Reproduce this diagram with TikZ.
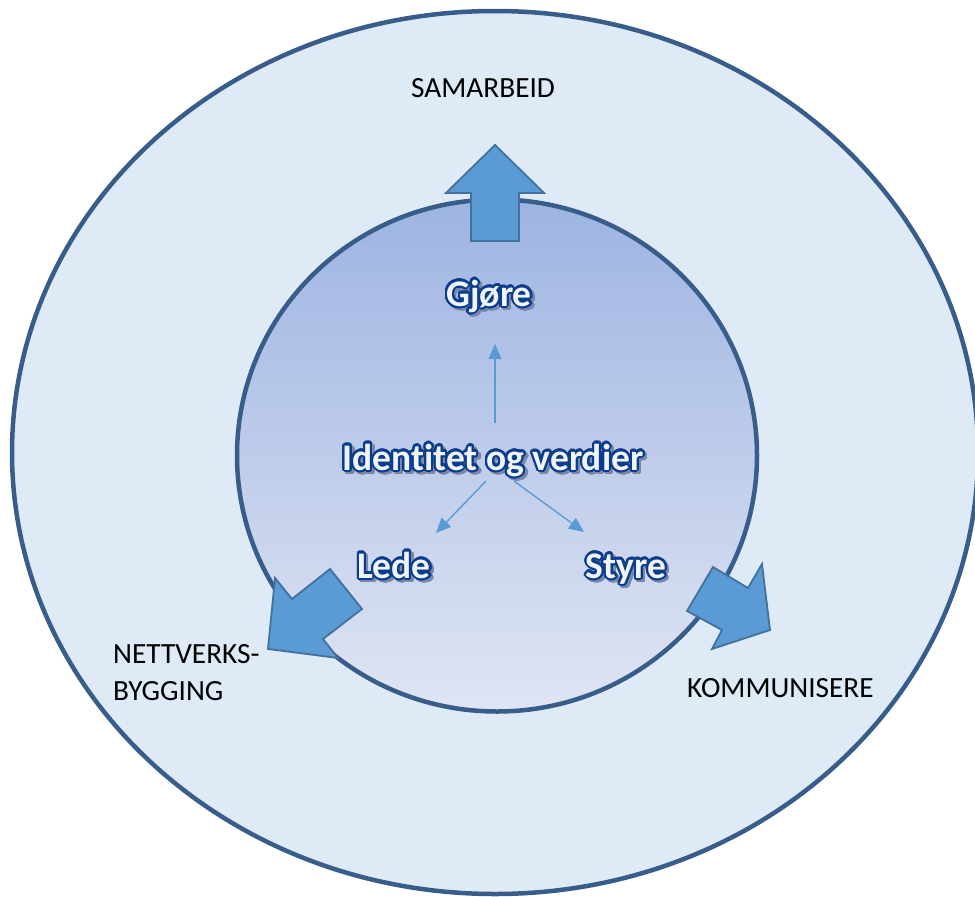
\documentclass[tikz,border=0pt]{standalone}
\usepackage{fontspec}
\setmainfont{Carlito}[Ligatures=NoCommon]
\usepackage{contour}
\contourlength{2.1pt}
\contournumber{32}
\usetikzlibrary{arrows.meta}

\definecolor{outerfill}{RGB}{222,234,246}
\definecolor{ringline}{RGB}{56,93,138}
\definecolor{innertop}{RGB}{157,180,226}
\definecolor{innerbot}{RGB}{224,229,243}
\definecolor{arrowfill}{RGB}{91,155,213}
\definecolor{arrowline}{RGB}{65,113,156}
\definecolor{waline}{RGB}{12,60,140}
\definecolor{wafill}{RGB}{240,244,251}
\definecolor{washadow}{RGB}{120,135,170}

\newcommand{\wordartbody}[1]{\textcolor{wafill}{\contour{waline}{#1}}}
\newcommand{\wordartshadow}[1]{\textcolor{washadow}{\contour{washadow}{#1}}}

\begin{document}
\begin{tikzpicture}[x=1pt,y=-1pt,
  ring/.style={draw=ringline, line width=4.5pt},
  bigarrow/.style={fill=arrowfill, draw=arrowline, line width=1.8pt, line join=miter},
  smallarrow/.style={draw=arrowfill, line width=1.4pt, -{Triangle[length=15pt,width=13pt]}},
  plainlabel/.style={inner sep=0pt, text=black, font=\fontsize{29.3}{34}\selectfont},
  walabel/.style={inner sep=0pt, font=\bfseries\fontsize{37.5}{44}\selectfont},
  wabody/.style={walabel},
  washade/.style={walabel}
]
\useasboundingbox (0,0) rectangle (975,897);
\clip (0,0) rectangle (975,897);

% outer ellipse
\draw[ring, fill=outerfill] (495,452.5) ellipse [x radius=483pt, y radius=441.5pt];

% inner circle
\draw[ring, top color=innertop, bottom color=innerbot] (497,455.5) ellipse [x radius=260pt, y radius=256pt];

% big block arrows
\draw[bigarrow] (471,241) -- (519,241) -- (519,193) -- (544,193) -- (495,145) -- (446,193) -- (471,193) -- cycle;
\draw[bigarrow] (330,569) -- (362,609) -- (323,639) -- (338,658) -- (268,649) -- (275,578) -- (292,599) -- cycle;
\draw[bigarrow] (713,567) -- (748,588) -- (762,564) -- (770,630) -- (712,649) -- (722,630) -- (687,611) -- cycle;

% outer labels
\node[plainlabel, anchor=base west] (samarbeid) at (411,97) {SAMARBEID};
\node[plainlabel, anchor=base west] (nettverks) at (113,663) {NETTVERKS-};
\node[plainlabel, anchor=base west] (bygging) at (113,700) {BYGGING};
\node[plainlabel, anchor=base west] (kommunisere) at (687,697) {KOMMUNISERE};

% word-art shadows
\node[washade, anchor=base] (gjoreS) at (491.5,308.5) {\wordartshadow{Gjøre}};
\node[washade, anchor=base] (identS) at (495.5,472.5) {\wordartshadow{Identitet og verdier}};
\node[washade, anchor=base] (ledeS) at (396.5,580.5) {\wordartshadow{Lede}};
\node[washade, anchor=base] (styreS) at (628.5,580.5) {\wordartshadow{Styre}};

% word-art labels
\node[wabody, anchor=base] (gjore) at (489,306) {\wordartbody{Gjøre}};
\node[wabody, anchor=base] (ident) at (493,470) {\wordartbody{Identitet og verdier}};
\node[wabody, anchor=base] (lede) at (394,578) {\wordartbody{Lede}};
\node[wabody, anchor=base] (styre) at (626,578) {\wordartbody{Styre}};

% small arrows
\coordinate (upstart) at (495,423);
\coordinate (upend) at (495,344);
\coordinate (lstart) at (486,481);
\coordinate (lend) at (436,533);
\coordinate (rstart) at (514,481);
\coordinate (rend) at (584,532);
\draw[smallarrow] (upstart) -- (upend);
\draw[smallarrow] (lstart) -- (lend);
\draw[smallarrow] (rstart) -- (rend);
\end{tikzpicture}
\end{document}
